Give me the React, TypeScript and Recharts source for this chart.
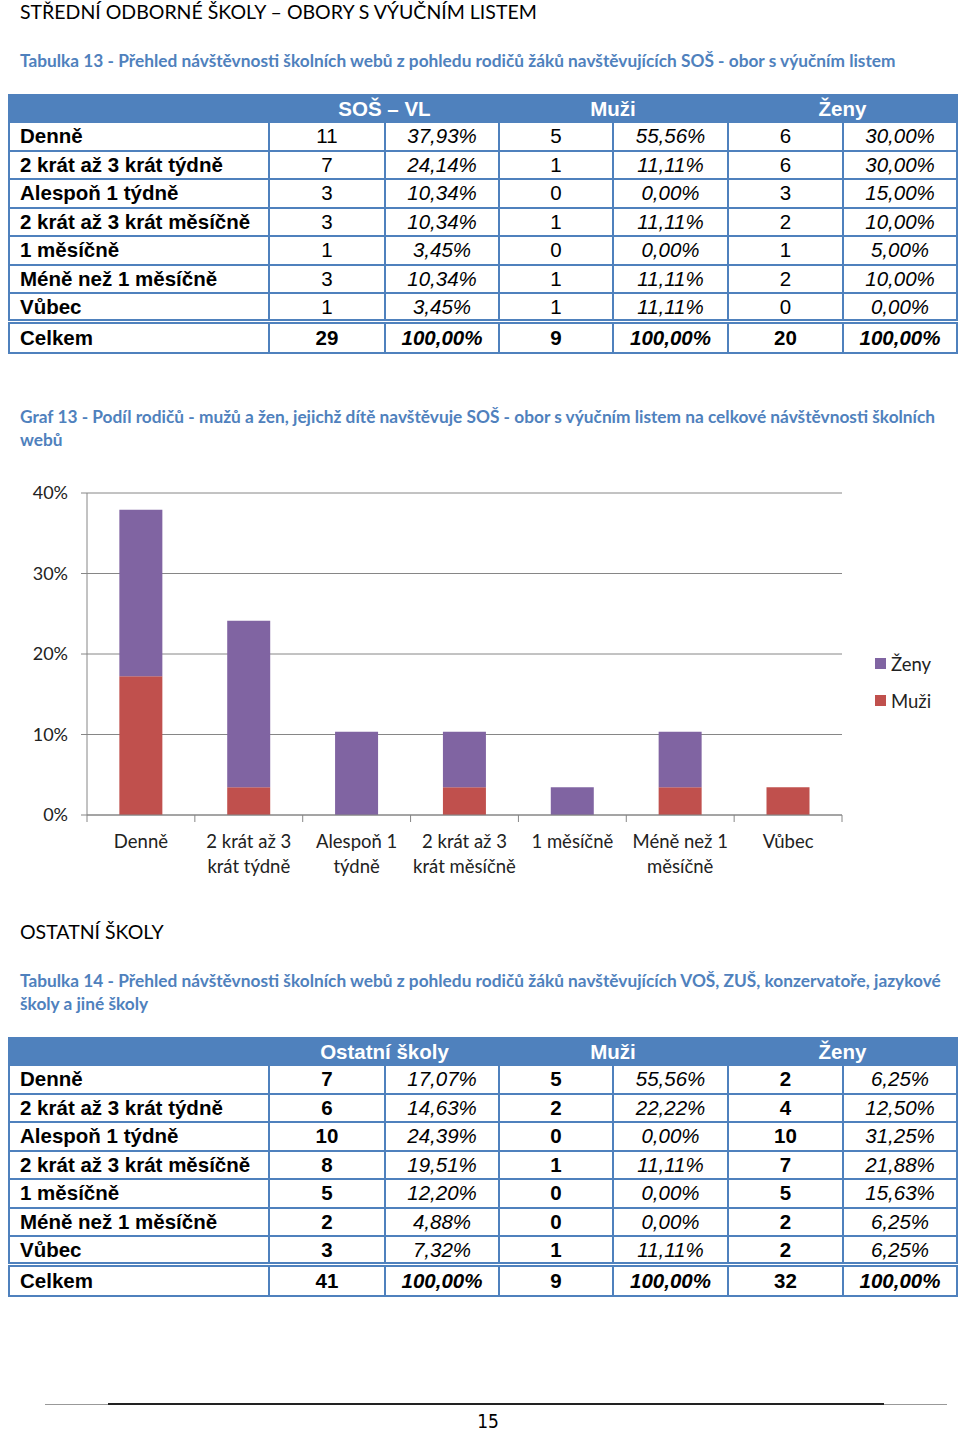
import React from "react";
import { BarChart, Bar, XAxis, YAxis, CartesianGrid } from "recharts";

// Graf 13 – podíl rodičů (v % z 29 respondentů)
const categories = [
  "Denně",
  "2 krát až 3 krát týdně",
  "Alespoň 1 týdně",
  "2 krát až 3 krát měsíčně",
  "1 měsíčně",
  "Méně než 1 měsíčně",
  "Vůbec",
];
const muziShare = [17.24, 3.45, 0, 3.45, 0, 3.45, 3.45];
const zenyShare = [20.69, 20.69, 10.34, 6.9, 3.45, 6.9, 0];
const yTicks = [0, 10, 20, 30, 40];

// Tabulky – řádky
const rowLabels = [
  "Denně",
  "2 krát až 3 krát týdně",
  "Alespoň 1 týdně",
  "2 krát až 3 krát měsíčně",
  "1 měsíčně",
  "Méně než 1 měsíčně",
  "Vůbec",
  "Celkem",
];

// Tabulka 13
const t13Total = [11, 7, 3, 3, 1, 3, 1, 29];
const t13TotalPct = ["37,93%", "24,14%", "10,34%", "10,34%", "3,45%", "10,34%", "3,45%", "100,00%"];
const t13Men = [5, 1, 0, 1, 0, 1, 1, 9];
const t13MenPct = ["55,56%", "11,11%", "0,00%", "11,11%", "0,00%", "11,11%", "11,11%", "100,00%"];
const t13Women = [6, 6, 3, 2, 1, 2, 0, 20];
const t13WomenPct = ["30,00%", "30,00%", "15,00%", "10,00%", "5,00%", "10,00%", "0,00%", "100,00%"];

// Tabulka 14
const t14Total = [7, 6, 10, 8, 5, 2, 3, 41];
const t14TotalPct = ["17,07%", "14,63%", "24,39%", "19,51%", "12,20%", "4,88%", "7,32%", "100,00%"];
const t14Men = [5, 2, 0, 1, 0, 0, 1, 9];
const t14MenPct = ["55,56%", "22,22%", "0,00%", "11,11%", "0,00%", "0,00%", "11,11%", "100,00%"];
const t14Women = [2, 4, 10, 7, 5, 2, 2, 32];
const t14WomenPct = ["6,25%", "12,50%", "31,25%", "21,88%", "15,63%", "6,25%", "6,25%", "100,00%"];

const chartData = categories.map((name, i) => ({
  name,
  muzi: muziShare[i],
  zeny: zenyShare[i],
}));

const BLUE = "#4f81bd";
const TEXT_FONT = "Lato, 'Open Sans', sans-serif";
const TABLE_FONT = "'Liberation Sans', Arial, sans-serif";
const GRID = "#868686";
const MUZI = "#c0504d";
const ZENY = "#8064a2";

function wrapLabel(text: string, max = 12) {
  const words = text.split(" ");
  const lines: string[] = [];
  let cur = "";
  for (const w of words) {
    const next = cur ? cur + " " + w : w;
    if (next.length > max && cur) {
      lines.push(cur);
      cur = w;
    } else cur = next;
  }
  if (cur) lines.push(cur);
  return lines;
}

const XTick = (props: any) => {
  const { x, y, payload, index } = props;
  const half = payload?.offset ?? 54;
  const lines = wrapLabel(String(payload.value));
  return (
    <g>
      <line x1={x - half} x2={x - half} y1={y} y2={y + 7} stroke={GRID} />
      {index === categories.length - 1 && (
        <line x1={x + half} x2={x + half} y1={y} y2={y + 7} stroke={GRID} />
      )}
      {lines.map((l, i) => (
        <text
          key={i}
          x={x}
          y={y + 27 + i * 25}
          dy="0.35em"
          textAnchor="middle"
          fill="#222"
          fontSize={18.5}
          fontFamily={TEXT_FONT}
        >
          {l}
        </text>
      ))}
    </g>
  );
};

const legendItems = [
  { name: "Ženy", color: ZENY },
  { name: "Muži", color: MUZI },
];

function DataTable({
  top,
  groupLabel,
  bold,
  cols,
}: {
  top: number;
  groupLabel: string;
  bold: boolean;
  cols: (string | number)[][];
}) {
  const widths = [260, 116, 114, 114, 115, 115, 114];
  const border = `2px solid ${BLUE}`;
  return (
    <table
      style={{
        position: "absolute",
        left: 8,
        top,
        width: 948,
        borderCollapse: "collapse",
        tableLayout: "fixed",
        fontFamily: TABLE_FONT,
        fontSize: 20.5,
        color: "#000",
      }}
    >
      <colgroup>
        {widths.map((w, i) => (
          <col key={i} style={{ width: w }} />
        ))}
      </colgroup>
      <tbody>
        <tr style={{ height: 27, background: BLUE, color: "#fff", fontWeight: 700, lineHeight: "20px" }}>
          <td style={{ border }} />
          <td colSpan={2} style={{ borderTop: border, borderBottom: border, textAlign: "center" }}>
            {groupLabel}
          </td>
          <td
            colSpan={2}
            style={{ borderTop: border, borderBottom: border, textAlign: "center", borderRight: "1px solid #9fb8d9" }}
          >
            Muži
          </td>
          <td colSpan={2} style={{ border, textAlign: "center" }}>
            Ženy
          </td>
        </tr>
        {rowLabels.map((label, r) => {
          const last = r === rowLabels.length - 1;
          const h = last ? 31 : 28.5;
          const cellStyle = (extra: React.CSSProperties = {}): React.CSSProperties => ({
            border,
            borderTop: last ? `5px double ${BLUE}` : border,
            padding: "0 10px",
            lineHeight: "20px",
            textAlign: "center",
            whiteSpace: "nowrap",
            ...extra,
          });
          return (
            <tr key={label} style={{ height: h }}>
              <td style={cellStyle({ textAlign: "left", fontWeight: 700 })}>{label}</td>
              {cols.map((col, c) => (
                <td
                  key={c}
                  style={cellStyle({
                    fontWeight: last || (bold && c % 2 === 0) ? 700 : 400,
                    fontStyle: c % 2 === 1 ? "italic" : "normal",
                  })}
                >
                  {col[r]}
                </td>
              ))}
            </tr>
          );
        })}
      </tbody>
    </table>
  );
}

const captionStyle: React.CSSProperties = {
  position: "absolute",
  left: 20,
  fontFamily: TEXT_FONT,
  fontWeight: 700,
  fontSize: 17.3,
  color: BLUE,
  lineHeight: "23px",
  width: 937,
};

const headingStyle: React.CSSProperties = {
  position: "absolute",
  left: 20,
  fontFamily: TEXT_FONT,
  fontSize: 19.5,
  color: "#000",
  lineHeight: "24px",
};

export default function App() {
  return (
    <div style={{ position: "absolute", left: 0, top: 0, width: 960, height: 1431, background: "#fff", overflow: "hidden" }}>
      <div style={{ ...headingStyle, top: 0 }}>STŘEDNÍ ODBORNÉ ŠKOLY – OBORY S VÝUČNÍM LISTEM</div>
      <div style={{ ...captionStyle, top: 49 }}>
        Tabulka 13 - Přehled návštěvnosti školních webů z pohledu rodičů žáků navštěvujících SOŠ - obor s výučním listem
      </div>
      <DataTable
        top={94}
        groupLabel="SOŠ – VL"
        bold={false}
        cols={[t13Total, t13TotalPct, t13Men, t13MenPct, t13Women, t13WomenPct]}
      />
      <div style={{ ...captionStyle, top: 405 }}>
        Graf 13 - Podíl rodičů - mužů a žen, jejichž dítě navštěvuje SOŠ - obor s výučním listem na celkové návštěvnosti školních webů
      </div>

      <div style={{ position: "absolute", left: 0, top: 470 }}>
        <BarChart
          width={960}
          height={420}
          data={chartData}
          margin={{ top: 23, right: 118, left: 27, bottom: 15 }}
          barCategoryGap="30%"
        >
          <CartesianGrid vertical={false} stroke={GRID} />
          <XAxis
            dataKey="name"
            stroke={GRID}
            tickLine={false}
            tickSize={0}
            tickMargin={0}
            height={60}
            interval={0}
            tick={<XTick />}
          />
          <YAxis
            domain={[0, 40]}
            ticks={yTicks}
            width={60}
            stroke={GRID}
            tickSize={6}
            tickMargin={13}
            tickFormatter={(v: number) => `${v}%`}
            tick={{ fill: "#222", fontSize: 18, fontFamily: TEXT_FONT }}
          />
          <Bar dataKey="muzi" name="Muži" stackId="a" fill={MUZI} isAnimationActive={false} />
          <Bar dataKey="zeny" name="Ženy" stackId="a" fill={ZENY} isAnimationActive={false} />
        </BarChart>
      </div>
      <div style={{ position: "absolute", left: 875, top: 645, fontFamily: TEXT_FONT, fontSize: 18.5, color: "#222" }}>
        {legendItems.map((e) => (
          <div key={e.name} style={{ display: "flex", alignItems: "center", height: 37 }}>
            <span style={{ width: 11, height: 11, background: e.color, marginRight: 5 }} />
            {e.name}
          </div>
        ))}
      </div>

      <div style={{ ...headingStyle, top: 920 }}>OSTATNÍ ŠKOLY</div>
      <div style={{ ...captionStyle, top: 969 }}>
        Tabulka 14 - Přehled návštěvnosti školních webů z pohledu rodičů žáků navštěvujících VOŠ, ZUŠ, konzervatoře, jazykové školy a jiné školy
      </div>
      <DataTable
        top={1037}
        groupLabel="Ostatní školy"
        bold={true}
        cols={[t14Total, t14TotalPct, t14Men, t14MenPct, t14Women, t14WomenPct]}
      />

      <div style={{ position: "absolute", left: 45, top: 1404, width: 902, height: 1, background: "#999" }} />
      <div style={{ position: "absolute", left: 108, top: 1403, width: 776, height: 2, background: "#222" }} />
      <div
        style={{
          position: "absolute",
          left: 0,
          width: 976,
          top: 1411,
          lineHeight: "20px",
          textAlign: "center",
          fontFamily: "'Liberation Sans Narrow', 'DejaVu Sans Condensed', sans-serif",
          fontSize: 19,
        }}
      >
        15
      </div>
    </div>
  );
}
